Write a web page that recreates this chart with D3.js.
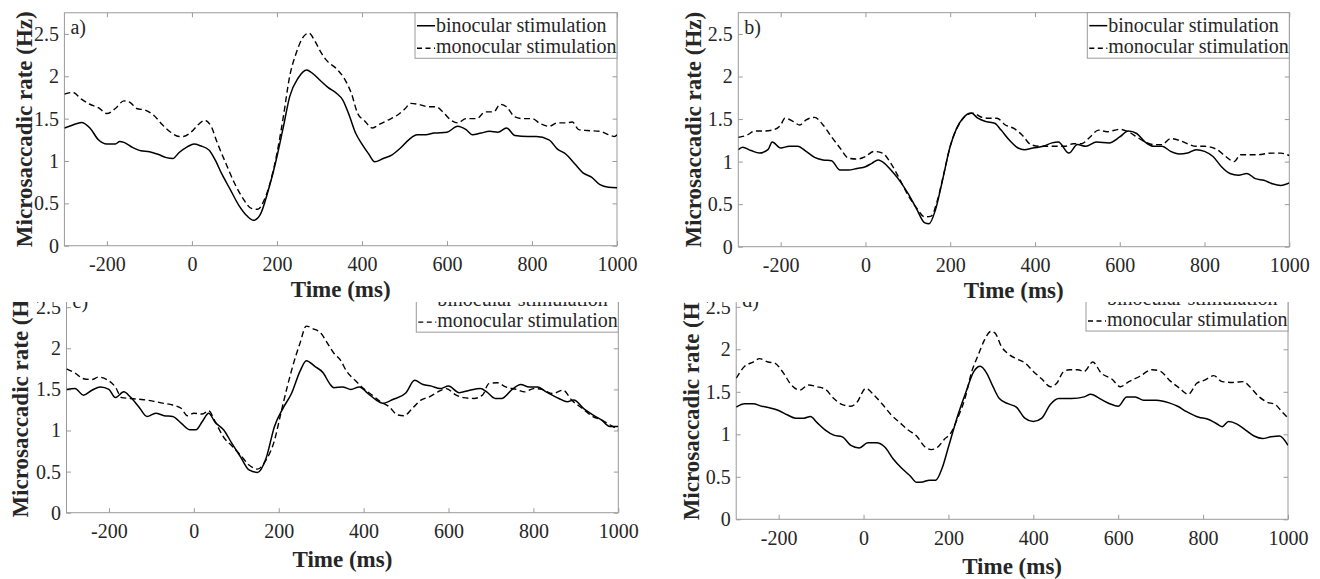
<!DOCTYPE html>
<html>
<head>
<meta charset="utf-8">
<script src="https://cdn.jsdelivr.net/npm/d3@7"></script>
<style>
  html, body { margin: 0; padding: 0; background: #fff; }
  svg { display: block; }
</style>
</head>
<body>
<svg id="chart" width="1320" height="579"></svg>
<script>
// ---------------- DATA ----------------
const xTicks = [-200, 0, 200, 400, 600, 800, 1000];
const yTicks = [0, 0.5, 1, 1.5, 2, 2.5];
const xDomain = [-300, 1000];
const yDomain = [0, 2.75];
const legendLabels = ["binocular stimulation", "monocular stimulation"];
const panelLabels = ["a)", "b)", "c)", "d)"];
const xAxisTitle = "Time (ms)";
const yAxisTitle = "Microsaccadic rate (Hz)";

// Panel a
const timeA_bin = [-300,-280,-260,-240,-220,-200,-180,-170,-160,-140,-120,-100,-80,-60,-45,-30,-10,5,20,40,55,70,90,110,130,145,160,180,200,215,230,250,270,285,300,320,340,355,370,385,400,415,430,450,470,490,510,530,550,570,600,625,645,660,680,700,720,740,760,790,810,840,860,880,900,920,940,960,980,1000];
const rateA_bin = [1.39,1.425,1.455,1.39,1.25,1.20,1.20,1.23,1.22,1.16,1.12,1.11,1.08,1.04,1.03,1.10,1.17,1.20,1.18,1.13,1.01,0.85,0.665,0.48,0.35,0.30,0.36,0.66,1.05,1.40,1.76,1.98,2.075,2.03,1.96,1.87,1.80,1.72,1.54,1.33,1.20,1.09,0.99,1.03,1.07,1.15,1.25,1.31,1.31,1.33,1.34,1.41,1.37,1.31,1.33,1.35,1.34,1.39,1.30,1.29,1.29,1.25,1.14,1.08,0.97,0.86,0.81,0.72,0.69,0.685];
const timeA_mono = [-300,-280,-260,-240,-220,-200,-180,-160,-145,-130,-110,-90,-70,-50,-30,-20,0,15,30,45,60,80,100,120,140,155,170,185,200,215,230,245,260,275,290,305,320,340,360,375,390,405,425,440,460,480,500,515,540,555,575,590,610,625,645,670,690,710,725,740,760,780,800,820,840,860,880,895,910,930,960,980,995,1000];
const rateA_mono = [1.79,1.81,1.73,1.67,1.63,1.56,1.62,1.71,1.69,1.62,1.60,1.54,1.43,1.34,1.29,1.29,1.35,1.43,1.48,1.41,1.21,0.97,0.74,0.56,0.44,0.43,0.54,0.76,1.09,1.52,2.0,2.27,2.45,2.51,2.41,2.27,2.17,2.09,1.96,1.80,1.56,1.48,1.39,1.43,1.48,1.53,1.61,1.68,1.66,1.64,1.64,1.58,1.48,1.45,1.50,1.50,1.58,1.58,1.67,1.64,1.52,1.50,1.50,1.44,1.41,1.45,1.45,1.46,1.37,1.36,1.35,1.31,1.29,1.31];

// Panel b
const timeB_bin = [-300,-290,-270,-250,-230,-220,-200,-180,-160,-140,-120,-100,-80,-60,-40,-20,0,15,30,45,60,80,100,120,140,150,165,180,200,215,230,250,265,285,305,320,340,360,375,395,420,440,455,480,500,520,545,575,600,620,640,660,680,700,720,740,760,780,800,820,840,860,880,900,920,940,960,980,1000];
const rateB_bin = [1.14,1.17,1.13,1.10,1.14,1.23,1.16,1.18,1.18,1.12,1.05,1.02,1.01,0.90,0.90,0.92,0.94,0.98,1.02,0.98,0.90,0.78,0.63,0.45,0.28,0.27,0.43,0.74,1.18,1.39,1.51,1.57,1.51,1.47,1.45,1.37,1.25,1.16,1.14,1.16,1.18,1.22,1.23,1.10,1.20,1.18,1.23,1.22,1.29,1.36,1.33,1.23,1.18,1.18,1.12,1.09,1.10,1.14,1.12,1.06,0.94,0.86,0.84,0.86,0.80,0.78,0.74,0.72,0.75];
const timeB_mono = [-300,-280,-260,-240,-220,-200,-190,-170,-155,-140,-120,-100,-80,-60,-40,-20,0,20,40,60,80,100,120,140,155,170,185,200,220,240,255,270,290,310,330,350,370,390,410,440,470,490,510,530,550,570,600,620,640,660,680,700,720,740,760,780,800,830,850,870,885,920,960,980,1000];
const rateB_mono = [1.285,1.31,1.36,1.36,1.37,1.43,1.51,1.47,1.43,1.49,1.52,1.43,1.29,1.16,1.04,1.03,1.06,1.12,1.10,0.98,0.80,0.61,0.46,0.35,0.36,0.55,0.86,1.18,1.43,1.55,1.57,1.53,1.51,1.51,1.43,1.39,1.31,1.20,1.18,1.18,1.18,1.21,1.21,1.29,1.37,1.35,1.38,1.35,1.29,1.23,1.20,1.20,1.27,1.25,1.21,1.18,1.18,1.14,1.06,1.00,1.08,1.08,1.10,1.10,1.07];

// Panel c
const timeC_bin = [-300,-280,-260,-240,-220,-200,-185,-165,-150,-130,-110,-90,-70,-50,-30,-10,5,20,35,50,70,90,110,130,150,170,190,210,230,250,265,285,305,320,330,350,370,390,410,430,445,470,500,520,540,560,580,600,625,650,675,690,710,725,750,770,790,810,830,860,880,895,920,940,960,980,1000];
const rateC_bin = [1.50,1.51,1.43,1.49,1.53,1.50,1.40,1.47,1.41,1.29,1.17,1.21,1.18,1.17,1.09,1.01,1.01,1.11,1.21,1.10,1.01,0.84,0.68,0.52,0.49,0.66,1.05,1.27,1.45,1.72,1.85,1.78,1.70,1.57,1.52,1.53,1.50,1.53,1.45,1.37,1.33,1.38,1.46,1.61,1.56,1.54,1.51,1.54,1.46,1.49,1.51,1.47,1.39,1.39,1.50,1.56,1.53,1.53,1.47,1.39,1.35,1.37,1.26,1.19,1.13,1.05,1.05];
const timeC_mono = [-300,-280,-260,-240,-225,-205,-185,-170,-150,-130,-110,-90,-70,-50,-30,-15,0,20,35,50,70,90,110,130,150,170,190,205,220,235,250,265,280,300,315,330,345,360,380,400,420,440,460,480,495,515,535,555,575,595,615,635,660,680,695,715,735,760,780,800,820,845,870,890,915,940,960,980,1000];
const rateC_mono = [1.75,1.70,1.63,1.62,1.65,1.62,1.53,1.40,1.39,1.38,1.37,1.35,1.33,1.31,1.27,1.18,1.21,1.20,1.24,1.11,0.92,0.81,0.70,0.58,0.53,0.64,0.88,1.21,1.53,1.82,2.06,2.27,2.24,2.18,2.06,1.94,1.86,1.72,1.61,1.51,1.43,1.35,1.29,1.19,1.18,1.27,1.37,1.41,1.47,1.51,1.44,1.40,1.39,1.43,1.57,1.58,1.53,1.50,1.47,1.51,1.50,1.45,1.49,1.37,1.27,1.17,1.13,1.07,1.01];

// Panel d
const timeD_bin = [-300,-280,-260,-240,-220,-200,-180,-160,-140,-125,-110,-90,-70,-50,-30,-10,10,30,50,70,90,110,125,140,155,170,185,200,220,240,260,275,290,305,320,340,360,380,400,420,440,460,490,520,535,560,580,600,620,640,660,690,720,740,760,790,810,830,845,860,880,900,920,940,960,980,1000];
const rateD_bin = [1.32,1.36,1.36,1.33,1.31,1.28,1.23,1.19,1.19,1.21,1.14,1.05,0.99,0.97,0.87,0.84,0.90,0.90,0.85,0.71,0.60,0.51,0.435,0.44,0.46,0.46,0.60,0.85,1.19,1.48,1.74,1.80,1.72,1.56,1.42,1.36,1.32,1.19,1.15,1.19,1.35,1.42,1.42,1.44,1.47,1.41,1.36,1.33,1.44,1.44,1.40,1.40,1.37,1.33,1.27,1.20,1.18,1.13,1.09,1.15,1.12,1.05,0.98,0.95,0.97,0.98,0.87];
const timeD_mono = [-300,-280,-260,-245,-225,-210,-190,-170,-150,-130,-110,-90,-70,-50,-30,-15,5,25,45,65,85,105,125,145,160,175,190,205,220,240,255,270,285,300,310,325,340,360,380,400,420,440,455,470,485,505,520,540,560,585,605,625,650,680,700,720,745,765,785,805,825,845,870,895,910,930,950,970,985,1000];
const rateD_mono = [1.66,1.80,1.85,1.89,1.85,1.84,1.73,1.58,1.52,1.58,1.56,1.53,1.42,1.35,1.33,1.38,1.54,1.46,1.35,1.23,1.14,1.05,0.98,0.85,0.82,0.85,0.94,1.01,1.17,1.44,1.74,1.93,2.11,2.21,2.19,2.03,1.95,1.89,1.84,1.74,1.65,1.56,1.60,1.73,1.76,1.76,1.74,1.85,1.72,1.65,1.56,1.62,1.68,1.76,1.74,1.64,1.54,1.47,1.60,1.64,1.69,1.62,1.61,1.62,1.56,1.45,1.38,1.35,1.27,1.19];

// ---------------- LAYOUT ----------------
const FONT = "'Liberation Serif', 'Times New Roman', Tinos, 'DejaVu Serif', serif";
const panels = [
  { label: panelLabels[0], left: 64.4, right: 617, y0: 245.7, unit: 84.7, bin: [timeA_bin, rateA_bin], mono: [timeA_mono, rateA_mono], yTitleOff: 40, xTitleOff: 51, clip: false },
  { label: panelLabels[1], left: 738.3, right: 1289.3, y0: 246.7, unit: 85.1, bin: [timeB_bin, rateB_bin], mono: [timeB_mono, rateB_mono], yTitleOff: 45.5, xTitleOff: 51, clip: false },
  { label: panelLabels[2], left: 66.5, right: 618.3, y0: 512.7, unit: 82.2, bin: [timeC_bin, rateC_bin], mono: [timeC_mono, rateC_mono], yTitleOff: 47, xTitleOff: 54.5, clip: true },
  { label: panelLabels[3], left: 736.2, right: 1288, y0: 519.3, unit: 85.0, bin: [timeD_bin, rateD_bin], mono: [timeD_mono, rateD_mono], yTitleOff: 45.5, xTitleOff: 54.5, clip: true }
];

const svg = d3.select("#chart").style("font-family", FONT);
svg.append("rect").attr("width", 1320).attr("height", 579).attr("fill", "#fff");
const defs = svg.append("defs");
defs.append("clipPath").attr("id", "clipBottom")
  .append("rect").attr("x", 0).attr("y", 302).attr("width", 1320).attr("height", 300);

const axisColor = "#9a9a9a";
const textColor = "#262626";
const tickLen = 4.5;
const dashPattern = "6,3.5";

function styleText(sel, size, bold) {
  sel.style("font-family", FONT).style("font-size", size + "px")
     .style("font-weight", bold ? "bold" : "normal").attr("fill", textColor);
  return sel;
}

panels.forEach((p, i) => {
  const top = p.y0 - yDomain[1] * p.unit;
  const x = d3.scaleLinear().domain(xDomain).range([p.left, p.right]);
  const y = d3.scaleLinear().domain(yDomain).range([p.y0, top]);

  const g = svg.append("g");
  if (p.clip) g.attr("clip-path", "url(#clipBottom)");

  const cid = "plotClip" + i;
  defs.append("clipPath").attr("id", cid)
    .append("rect").attr("x", p.left).attr("y", top).attr("width", p.right - p.left).attr("height", p.y0 - top);

  // axes
  const bottomAx = g.append("g").attr("transform", `translate(0,${p.y0})`)
    .call(d3.axisBottom(x).tickValues(xTicks).tickSizeInner(-tickLen).tickSizeOuter(0).tickFormat(d => String(d)));
  styleText(bottomAx.selectAll("text").attr("y", 25.5).attr("dy", null), 20, false);
  const topAx = g.append("g").attr("transform", `translate(0,${top})`)
    .call(d3.axisTop(x).tickValues(xTicks).tickSizeInner(-tickLen).tickSizeOuter(0).tickFormat(""));
  const leftAx = g.append("g").attr("transform", `translate(${p.left},0)`)
    .call(d3.axisLeft(y).tickValues(yTicks).tickSizeInner(-tickLen).tickSizeOuter(0).tickFormat(d => String(d)));
  styleText(leftAx.selectAll("text").attr("x", -5.5), 20, false);
  const rightAx = g.append("g").attr("transform", `translate(${p.right},0)`)
    .call(d3.axisRight(y).tickValues(yTicks).tickSizeInner(-tickLen).tickSizeOuter(0).tickFormat(""));
  [bottomAx, topAx, leftAx, rightAx].forEach(a => {
    a.select(".domain").remove();
    a.selectAll("line").attr("stroke", axisColor);
    a.attr("font-family", FONT).attr("font-size", 20);
  });
  g.append("rect").attr("x", p.left).attr("y", top).attr("width", p.right - p.left).attr("height", p.y0 - top)
    .attr("fill", "none").attr("stroke", axisColor).attr("stroke-width", 1);

  // lines
  const line = d3.line().x(d => x(d[0])).y(d => y(d[1])).curve(d3.curveMonotoneX);
  const binData = p.bin[0].map((t, k) => [t, p.bin[1][k]]);
  const monoData = p.mono[0].map((t, k) => [t, p.mono[1][k]]);
  const lines = g.append("g").attr("clip-path", `url(#${cid})`);
  lines.append("path").datum(monoData).attr("d", line).attr("fill", "none")
    .attr("stroke", "#000").attr("stroke-width", 1.4).attr("stroke-dasharray", dashPattern);
  lines.append("path").datum(binData).attr("d", line).attr("fill", "none")
    .attr("stroke", "#000").attr("stroke-width", 1.5);

  // panel label
  styleText(g.append("text").attr("x", p.left + 6).attr("y", top + 21.5).text(p.label), 20, false);

  // legend
  const lw = 202, lh = 45.5;
  const lx = p.right - lw, ly = top;
  const lg = g.append("g");
  lg.append("rect").attr("x", lx).attr("y", ly).attr("width", lw).attr("height", lh)
    .attr("fill", "#fff").attr("stroke", axisColor).attr("stroke-width", 1);
  lg.append("line").attr("x1", lx + 2).attr("x2", lx + 20).attr("y1", ly + 13).attr("y2", ly + 13)
    .attr("stroke", "#000").attr("stroke-width", 1.5);
  lg.append("line").attr("x1", lx + 2).attr("x2", lx + 20).attr("y1", ly + 35.5).attr("y2", ly + 35.5)
    .attr("stroke", "#000").attr("stroke-width", 1.4).attr("stroke-dasharray", "5,3.5");
  styleText(lg.append("text").attr("x", lx + 21).attr("y", ly + 19).text(legendLabels[0]), 20, false);
  styleText(lg.append("text").attr("x", lx + 21).attr("y", ly + 40.5).text(legendLabels[1]), 20, false);

  // axis titles
  styleText(g.append("text").attr("x", (p.left + p.right) / 2).attr("y", p.y0 + p.xTitleOff)
    .attr("text-anchor", "middle").text(xAxisTitle), 23, true);
  const cy = (top + p.y0) / 2, cx = p.left - p.yTitleOff;
  styleText(g.append("text").attr("transform", `translate(${cx},${cy}) rotate(-90)`)
    .attr("text-anchor", "middle").attr("dy", "0.35em").text(yAxisTitle), 23, true);
});
</script>
</body>
</html>
